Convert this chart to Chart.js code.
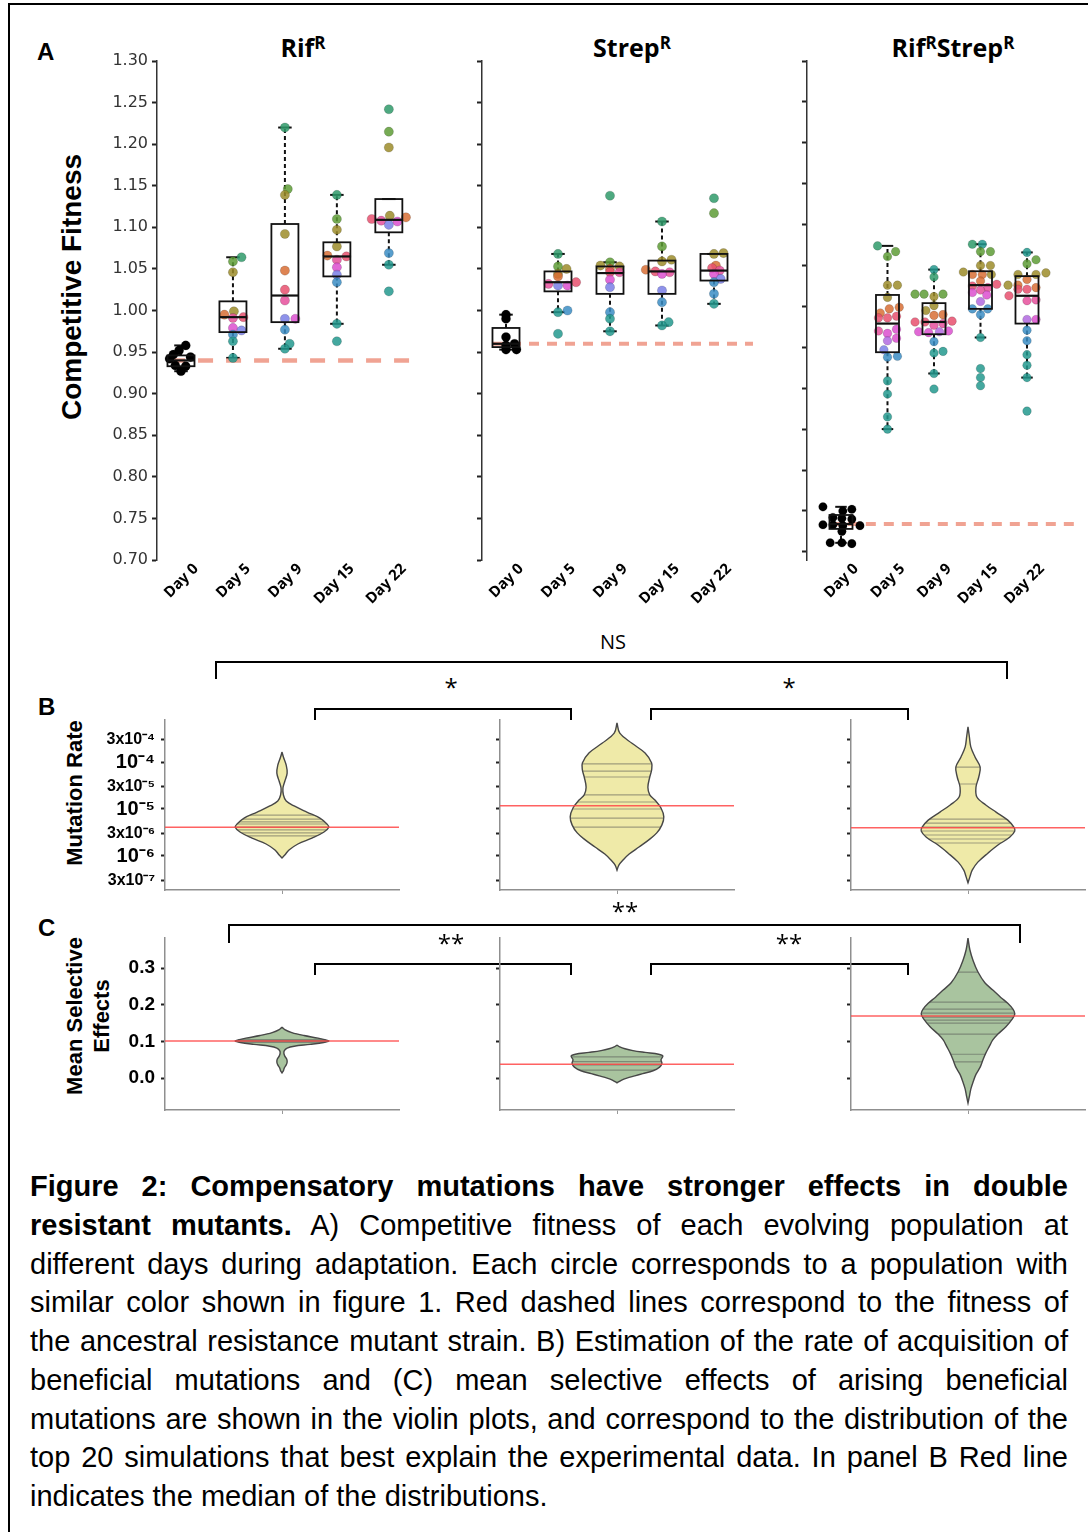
<!DOCTYPE html>
<html lang="en">
<head>
<meta charset="utf-8">
<title>Figure 2</title>
<script src="https://cdn.jsdelivr.net/npm/chart.js@4.4.0/dist/chart.umd.min.js"></script>
<style>
  body { margin: 0; background: #fff; overflow: hidden; }
  #fig { position: relative; width: 1088px; height: 1532px; overflow: hidden; background: #fff;
         font-family: "Liberation Sans", Arial, sans-serif; color: #000; }
  #fig canvas { position: absolute; }
  .frame { position: absolute; left: 8px; top: 3px; width: 1200px; height: 1700px;
           border-left: 2px solid #000; border-top: 2px solid #000; }
  .letter { position: absolute; font-weight: bold; font-size: 24px; line-height: 24px; }
  .ptitle { position: absolute; transform: translateX(-50%); white-space: nowrap;
            font-family: "Open Sans", sans-serif; font-weight: 700; font-size: 25px; line-height: 25px; }
  .ptitle sup { font-size: 17px; vertical-align: 8px; line-height: 0; }
  .ytitle { position: absolute; transform: translate(-50%, -50%) rotate(-90deg); white-space: nowrap;
            font-weight: bold; text-align: center; }
  .brk { position: absolute; box-sizing: border-box; border: 2px solid #000; border-bottom: none; }
  .sig { position: absolute; transform: translateX(-50%); white-space: nowrap;
         font-family: "Open Sans", sans-serif; }
  #cap { position: absolute; left: 30px; top: 1167px; width: 1038px; font-size: 29px; line-height: 38.75px; }
  #cap div { text-align: justify; text-align-last: justify; }
  #cap div.last { text-align-last: left; }
</style>
</head>
<body>
<div id="fig">
  <div class="frame"></div>

  <!-- panel A -->
  <div class="letter" style="left:37px; top:40px;">A</div>
  <div class="ytitle" style="left:72px; top:287px; font-size:28px; line-height:28px;">Competitive Fitness</div>
  <div class="ptitle" style="left:303px; top:35px;">Rif<sup>R</sup></div>
  <div class="ptitle" style="left:632px; top:35px;">Strep<sup>R</sup></div>
  <div class="ptitle" style="left:953px; top:35px;">Rif<sup>R</sup>Strep<sup>R</sup></div>
  <canvas id="fitRif" width="380" height="570" style="left:50px; top:40px;"></canvas>
  <canvas id="fitStrep" width="330" height="570" style="left:440px; top:40px;"></canvas>
  <canvas id="fitDouble" width="318" height="570" style="left:770px; top:40px;"></canvas>

  <!-- panel B -->
  <div class="sig" style="left:613px; top:632px; font-size:20px; line-height:20px;">NS</div>
  <div class="brk" style="left:215px; top:661px; width:793px; height:18px;"></div>
  <div class="sig" style="left:451px; top:676px; font-size:24px; line-height:22px;">*</div>
  <div class="sig" style="left:789px; top:676px; font-size:24px; line-height:22px;">*</div>
  <div class="brk" style="left:314px; top:708px; width:258px; height:12px;"></div>
  <div class="brk" style="left:650px; top:708px; width:259px; height:12px;"></div>
  <div class="letter" style="left:38px; top:695px;">B</div>
  <div class="ytitle" style="left:75px; top:793px; font-size:22px; line-height:22px;">Mutation Rate</div>
  <canvas id="rateRif" width="375" height="195" style="left:30px; top:700px;"></canvas>
  <canvas id="rateStrep" width="310" height="195" style="left:430px; top:700px;"></canvas>
  <canvas id="rateDouble" width="298" height="195" style="left:790px; top:700px;"></canvas>

  <!-- panel C -->
  <div class="sig" style="left:625px; top:900px; font-size:24px; line-height:22px;">**</div>
  <div class="brk" style="left:228px; top:924px; width:793px; height:19px;"></div>
  <div class="sig" style="left:451px; top:932px; font-size:24px; line-height:22px;">**</div>
  <div class="sig" style="left:789px; top:932px; font-size:24px; line-height:22px;">**</div>
  <div class="brk" style="left:314px; top:963px; width:258px; height:12px;"></div>
  <div class="brk" style="left:650px; top:963px; width:259px; height:12px;"></div>
  <div class="letter" style="left:38px; top:916px;">C</div>
  <div class="ytitle" style="left:88px; top:1016px; font-size:22px; line-height:27px;">Mean Selective<br>Effects</div>
  <canvas id="selRif" width="375" height="197" style="left:30px; top:918px;"></canvas>
  <canvas id="selStrep" width="310" height="197" style="left:430px; top:918px;"></canvas>
  <canvas id="selDouble" width="298" height="197" style="left:790px; top:918px;"></canvas>

  <div id="cap">
    <div><b>Figure 2: Compensatory mutations have stronger effects in double</b></div>
    <div><b>resistant mutants.</b> A) Competitive fitness of each evolving population at</div>
    <div>different days during adaptation. Each circle corresponds to a population with</div>
    <div>similar color shown in figure 1. Red dashed lines correspond to the fitness of</div>
    <div>the ancestral resistance mutant strain. B) Estimation of the rate of acquisition of</div>
    <div>beneficial mutations and (C) mean selective effects of arising beneficial</div>
    <div>mutations are shown in the violin plots, and correspond to the distribution of the</div>
    <div>top 20 simulations that best explain the experimental data. In panel B Red line</div>
    <div class="last">indicates the median of the distributions.</div>
  </div>
</div>

<script>
  // ---- panel A data ----
  const days = ['Day 0', 'Day 5', 'Day 9', 'Day 15', 'Day 22'];
  const fitnessTicks = [0.70, 0.75, 0.80, 0.85, 0.90, 0.95, 1.00, 1.05, 1.10, 1.15, 1.20, 1.25, 1.30];
  // population colours (index -1 = ancestor, black)
  const popColors = ['#e8506e', '#d86f35', '#9c8c2a', '#5e9c36', '#2f9a6a', '#23998e',
                     '#3b8dc4', '#7a7fe6', '#b168e0', '#dc4fcf', '#e6509c'];

  // Rif R
  const rifValues = [
    [0.958, 0.952, 0.947, 0.944, 0.942, 0.934, 0.933, 0.927],
    [1.064, 1.059, 1.046, 0.999, 0.995, 0.992, 0.991, 0.979, 0.976, 0.971, 0.963, 0.943],
    [1.220, 1.146, 1.139, 1.092, 1.048, 1.025, 1.012, 0.990, 0.990, 0.977, 0.960, 0.954],
    [1.139, 1.110, 1.097, 1.077, 1.066, 1.065, 1.061, 1.052, 1.043, 1.034, 0.984, 0.963],
    [1.242, 1.215, 1.196, 1.114, 1.112, 1.110, 1.108, 1.107, 1.103, 1.069, 1.055, 1.023]
  ];
  const rifSteps = [
    [0.5, -0.2, -0.8, 1, -1.2, -0.6, 0.5, 0],
    [0.9, 0, 0, 0.1, -0.9, 1.1, 0, 0, 0.9, 0, 0, 0],
    [0, 0.3, 0, 0, 0, 0, 0, 0, 1.1, 0, 0.5, 0],
    [0, 0, 0, 0, -1, 1, 0, 0, 0, 0, 0, 0],
    [0, 0, 0, 0.1, 1.8, -1.8, -0.8, 0.9, 0, 0, 0, 0]
  ];
  const rifColors = [
    [-1, -1, -1, -1, -1, -1, -1, -1],
    [4, 3, 2, 2, 1, 0, 10, 9, 7, 6, 5, 5],
    [4, 3, 2, 2, 1, 0, 10, 7, 9, 6, 5, 5],
    [4, 3, 2, 2, 1, 0, 10, 9, 7, 6, 5, 5],
    [4, 3, 2, 2, 1, 0, 10, 9, 7, 6, 5, 5]
  ];
  const rifBox = {
    q1:  [0.933, 0.974, 0.986, 1.041, 1.094],
    med: [0.940, 0.992, 1.018, 1.065, 1.109],
    q3:  [0.946, 1.011, 1.104, 1.082, 1.134],
    lo:  [0.927, 0.943, 0.954, 0.984, 1.055],
    hi:  [0.958, 1.064, 1.220, 1.139, 1.134]
  };

  // Strep R
  const strepValues = [
    [0.995, 0.990, 0.968, 0.960, 0.958, 0.953, 0.953],
    [1.068, 1.053, 1.050, 1.044, 1.041, 1.034, 1.032, 1.030, 1.030, 1.000, 0.998, 0.972],
    [1.138, 1.058, 1.054, 1.053, 1.050, 1.046, 1.046, 1.037, 1.028, 0.998, 0.990, 0.975],
    [1.107, 1.077, 1.061, 1.059, 1.049, 1.047, 1.046, 1.044, 1.024, 1.010, 0.986, 0.982],
    [1.135, 1.117, 1.069, 1.068, 1.054, 1.051, 1.048, 1.044, 1.038, 1.034, 1.020, 1.008]
  ];
  const strepSteps = [
    [0, 0, 0, 0.9, 0, 0, 1.1],
    [0, 0, 0.9, 0, 0, 1.9, -1, 0, 1, 1, 0, 0],
    [0, 0, -1, 1, 0, 0, 1, 0, 0, 0, 0, 0],
    [0, 0, 1, 0, -1.7, -0.7, 0.8, 0, 0, 0, 0.7, 0],
    [0, 0, 1, 0, 0.2, -0.2, 0.6, 0, 0.7, 0, 0, 0]
  ];
  const strepColors = [
    [-1, -1, -1, -1, -1, -1, -1],
    [4, 3, 2, 2, 1, 0, 10, 7, 9, 6, 5, 5],
    [4, 3, 2, 2, 1, 0, 10, 9, 7, 6, 5, 5],
    [4, 3, 2, 2, 1, 0, 10, 9, 7, 6, 5, 5],
    [4, 3, 2, 2, 1, 0, 10, 9, 7, 6, 6, 5]
  ];
  const strepBox = {
    q1:  [0.956, 1.023, 1.020, 1.020, 1.036],
    med: [0.960, 1.034, 1.045, 1.047, 1.048],
    q3:  [0.979, 1.047, 1.053, 1.060, 1.068],
    lo:  [0.953, 0.998, 0.975, 0.982, 1.008],
    hi:  [0.995, 1.068, 1.058, 1.107, 1.068]
  };

  // Rif R Strep R
  const dblValues = [
    [0.755, 0.752, 0.750, 0.742, 0.741, 0.740, 0.733, 0.733, 0.732, 0.732, 0.725, 0.711, 0.711, 0.710],
    [1.074, 1.067, 1.061, 1.026, 1.026, 1.011, 0.999, 0.997, 0.992, 0.988, 0.986, 0.986, 0.972, 0.970,
     0.967, 0.961, 0.958, 0.947, 0.939, 0.938, 0.909, 0.893, 0.865, 0.850],
    [1.045, 1.036, 1.015, 1.015, 1.015, 1.012, 1.001, 0.995, 0.990, 0.989, 0.982, 0.981, 0.981, 0.979,
     0.977, 0.970, 0.969, 0.969, 0.968, 0.957, 0.945, 0.943, 0.918, 0.899],
    [1.076, 1.076, 1.067, 1.067, 1.050, 1.050, 1.042, 1.039, 1.039, 1.039, 1.031, 1.027, 1.025, 1.023,
     1.020, 1.017, 1.014, 1.006, 0.997, 0.997, 0.990, 0.962, 0.924, 0.913, 0.903],
    [1.066, 1.057, 1.052, 1.041, 1.039, 1.039, 1.033, 1.026, 1.026, 1.023, 1.021, 1.021, 1.013, 1.008,
     1.007, 0.984, 0.984, 0.971, 0.958, 0.941, 0.928, 0.913, 0.872]
  ];
  const dblSteps = [
    [-2, 1.2, 0.2, -0.9, 0.1, 1.2, -2, -0.9, 0.2, 2.1, 0.1, -1.2, 0.1, 1.2],
    [-1.1, 0.9, 0, 0, 1.1, 0, 1.3, 0.2, -0.8, 1, -1, 0, 1, -1, 0, 1, 0, -0.4, 1.1, 0, 0, 0, 0, 0],
    [0, 0, -2.1, -1.1, 1, 0, 0, -0.9, 1, 0, 2, -2.1, -1, 1, 0, 1.6, -1.7, 0.6, -0.6, 0, 1, 0, 0, 0],
    [-0.9, 0.2, 0, 1.1, 0, 1.1, -1.9, -0.9, 0.2, 1.2, 0, 1.8, -0.9, 0.8, 0, -0.9, 0.7, 0, -0.9, 0.8, 0, 0, 0, 0, 0],
    [0, 1, 0, 2.1, -1, 1, 0, -2.1, -1, 1, -1, 0, -2, 1, 0, 1, 0, 0, 0, 0, 0, 0, 0]
  ];
  const dblColors = [
    [-1, -1, -1, -1, -1, -1, -1, -1, -1, -1, -1, -1, -1, -1],
    [4, 3, 3, 2, 2, 2, 1, 1, 1, 0, 0, 0, 9, 10, 9, 9, 8, 7, 6, 6, 5, 5, 5, 5],
    [5, 4, 3, 3, 3, 2, 2, 2, 1, 1, 0, 0, 0, 10, 10, 9, 9, 8, 9, 6, 5, 5, 5, 5],
    [4, 5, 3, 3, 2, 2, 2, 1, 1, 2, 1, 0, 0, 10, 10, 9, 9, 8, 6, 6, 6, 5, 5, 5, 5],
    [5, 3, 3, 2, 2, 2, 1, 2, 1, 1, 0, 0, 0, 10, 10, 9, 8, 6, 6, 5, 5, 5, 5]
  ];
  const dblBox = {
    q1:  [0.728, 0.944, 0.966, 0.997, 0.979],
    med: [0.734, 0.979, 0.981, 1.026, 1.013],
    q3:  [0.745, 1.014, 1.004, 1.043, 1.037],
    lo:  [0.711, 0.850, 0.918, 0.962, 0.913],
    hi:  [0.755, 1.074, 1.045, 1.076, 1.066]
  };

  // fitness of the ancestral resistant strains
  const ancestorFitness = [0.940, 0.960, 0.734];

  // ---- panel B data (mutation rate) ----
  const rateTicks = [3e-4, 1e-4, 3e-5, 1e-5, 3e-6, 1e-6, 3e-7];
  const rateTickLabels = ['3x10⁻⁴', '10⁻⁴', '3x10⁻⁵', '10⁻⁵', '3x10⁻⁶', '10⁻⁶', '3x10⁻⁷'];
  const rateRifVals = [1.63e-4, 1.28e-4, 8.6e-5, 5.8e-5, 3.9e-5, 2.8e-5, 1.99e-5, 1.48e-5, 1.16e-5,
                       8.6e-6, 6.4e-6, 4.8e-6, 4.1e-6, 3.2e-6, 2.4e-6, 1.8e-6, 1.34e-6, 1.05e-6, 9.1e-7];
  const rateRifDens = [0, 0.03, 0.09, 0.11, 0.06, 0.02, 0.03, 0.09, 0.26, 0.53, 0.81, 0.96, 1, 0.89,
                       0.64, 0.34, 0.15, 0.06, 0];
  const rateStrepVals = [6.8e-4, 4.1e-4, 2.5e-4, 1.55e-4, 9.5e-5, 6.8e-5, 4.8e-5, 2.9e-5, 2.0e-5, 1.55e-5,
                         1.05e-5, 6.8e-6, 4.6e-6, 3.1e-6, 2.2e-6, 1.55e-6, 1.1e-6, 8.2e-7, 6.4e-7, 5.0e-7];
  const rateStrepDens = [0, 0.06, 0.32, 0.6, 0.74, 0.74, 0.7, 0.66, 0.7, 0.81, 0.94, 1, 0.96, 0.85,
                         0.68, 0.47, 0.26, 0.13, 0.04, 0];
  const rateDblVals = [5.6e-4, 3.4e-4, 2.1e-4, 1.28e-4, 7.8e-5, 4.8e-5, 2.9e-5, 1.8e-5, 1.22e-5, 8.6e-6,
                       5.8e-6, 4.1e-6, 3.4e-6, 2.5e-6, 1.71e-6, 1.16e-6, 7.4e-7, 5.0e-7, 3.6e-7, 2.7e-7];
  const rateDblDens = [0, 0.03, 0.06, 0.15, 0.26, 0.23, 0.17, 0.19, 0.38, 0.6, 0.85, 0.98, 1, 0.89,
                       0.64, 0.43, 0.21, 0.09, 0.04, 0];
  const rateMedians = [4.1e-6, 1.17e-5, 4.0e-6];
  const rateRifSamples = [7.4e-6, 6.1e-6, 5.3e-6, 4.8e-6, 4.1e-6, 3.6e-6, 3.1e-6, 2.67e-6];
  const rateStrepSamples = [9.1e-5, 6.4e-5, 4.8e-5, 2.0e-5, 1.41e-5, 1.0e-5, 6.4e-6, 4.1e-6];
  const rateDblSamples = [7.8e-5, 3.4e-5, 6.1e-6, 5.0e-6, 4.1e-6, 3.4e-6, 2.8e-6, 2.3e-6, 1.89e-6];

  // ---- panel C data (mean selective effects) ----
  const selTicks = [0, 0.1, 0.2, 0.3];
  const selRifVals = [0.139, 0.132, 0.124, 0.116, 0.109, 0.104, 0.101, 0.097, 0.092, 0.087, 0.082,
                      0.075, 0.068, 0.060, 0.052, 0.044, 0.036, 0.028, 0.020, 0.014];
  const selRifDens = [0, 0.06, 0.21, 0.47, 0.77, 0.94, 1, 0.89, 0.6, 0.26, 0.11, 0.05, 0.04, 0.06,
                      0.1, 0.11, 0.09, 0.05, 0.03, 0];
  const selStrepVals = [0.090, 0.085, 0.080, 0.075, 0.070, 0.065, 0.060, 0.050, 0.040, 0.030, 0.020,
                        0.012, 0.006, 0.000, -0.006, -0.013];
  const selStrepDens = [0, 0.06, 0.17, 0.34, 0.6, 0.89, 0.98, 0.94, 0.96, 0.91, 0.77, 0.55, 0.38,
                        0.21, 0.09, 0];
  const selDblVals = [0.382, 0.350, 0.320, 0.290, 0.260, 0.240, 0.220, 0.204, 0.188, 0.175, 0.160,
                      0.140, 0.120, 0.104, 0.085, 0.068, 0.050, 0.030, 0.010, -0.010, -0.030, -0.050, -0.068];
  const selDblDens = [0, 0.04, 0.11, 0.21, 0.36, 0.53, 0.7, 0.85, 0.96, 1, 0.94, 0.81, 0.64, 0.53,
                      0.45, 0.38, 0.32, 0.26, 0.17, 0.11, 0.06, 0.03, 0];
  const selMedians = [0.101, 0.038, 0.169];
  const selRifSamples = [0.105, 0.102, 0.100, 0.097];
  const selStrepSamples = [0.058, 0.045, 0.036, 0.022];
  const selDblSamples = [0.289, 0.207, 0.188, 0.177, 0.166, 0.158, 0.150, 0.120, 0.065, 0.044];

  // ---- helpers ----
  function rgba(hex, a) {
    const n = parseInt(hex.slice(1), 16);
    return 'rgba(' + (n >> 16) + ',' + ((n >> 8) & 255) + ',' + (n & 255) + ',' + a + ')';
  }
  function pointsFor(values, steps, step) {
    const pts = [];
    values.forEach((dayVals, d) => {
      dayVals.forEach((v, k) => pts.push({ x: d + steps[d][k] * step, y: v }));
    });
    return pts;
  }
  function colorsFor(colors, a) {
    return colors.flat().map(c => c < 0 ? '#000' : rgba(popColors[c], a));
  }
  function zeroPadding(s) {
    s.paddingTop = 0; s.paddingBottom = 0; s.paddingLeft = 0; s.paddingRight = 0;
  }

  // box plots drawn through the chart scales
  function boxPlugin(stats, width) {
    const seg = (ctx, x1, y1, x2, y2) => { ctx.beginPath(); ctx.moveTo(x1, y1); ctx.lineTo(x2, y2); ctx.stroke(); };
    return {
      id: 'boxes',
      beforeDatasetsDraw(chart) {
        const { ctx } = chart, x = chart.scales.x, y = chart.scales.y;
        ctx.save();
        ctx.strokeStyle = '#111';
        stats.q1.forEach((q1, i) => {
          const cx = x.getPixelForValue(i);
          const hw = x.getPixelForValue(i + width / 2) - cx;
          ctx.lineWidth = 2;
          ctx.setLineDash([4, 3]);
          seg(ctx, cx, y.getPixelForValue(stats.q3[i]), cx, y.getPixelForValue(stats.hi[i]));
          seg(ctx, cx, y.getPixelForValue(q1), cx, y.getPixelForValue(stats.lo[i]));
          ctx.setLineDash([]);
          seg(ctx, cx - hw / 2, y.getPixelForValue(stats.hi[i]), cx + hw / 2, y.getPixelForValue(stats.hi[i]));
          seg(ctx, cx - hw / 2, y.getPixelForValue(stats.lo[i]), cx + hw / 2, y.getPixelForValue(stats.lo[i]));
        });
        ctx.restore();
      },
      afterDatasetsDraw(chart) {
        const { ctx } = chart, x = chart.scales.x, y = chart.scales.y;
        ctx.save();
        ctx.strokeStyle = '#111';
        stats.q1.forEach((q1, i) => {
          const cx = x.getPixelForValue(i);
          const hw = x.getPixelForValue(i + width / 2) - cx;
          const top = y.getPixelForValue(stats.q3[i]);
          ctx.lineWidth = 1.8;
          ctx.strokeRect(cx - hw, top, 2 * hw, y.getPixelForValue(q1) - top);
          ctx.lineWidth = 2.2;
          seg(ctx, cx - hw, y.getPixelForValue(stats.med[i]), cx + hw, y.getPixelForValue(stats.med[i]));
        });
        ctx.restore();
      }
    };
  }

  function fitnessChart(id, o) {
    new Chart(document.getElementById(id), {
      type: 'scatter',
      data: {
        datasets: [
          {
            data: pointsFor(o.values, o.steps, o.step),
            pointRadius: o.radius,
            pointBackgroundColor: colorsFor(o.colors, 0.85),
            pointBorderColor: 'rgba(0,0,0,0.25)',
            pointBorderWidth: 0.6,
            order: 1
          },
          {
            data: [{ x: o.dash[0], y: o.ancestor }, { x: o.dash[1], y: o.ancestor }],
            showLine: true,
            borderColor: 'rgba(236,140,120,0.8)',
            borderWidth: o.dashWidth,
            borderDash: o.dashPattern,
            pointRadius: 0,
            order: 2
          }
        ]
      },
      options: {
        responsive: false,
        animation: false,
        events: [],
        layout: { padding: { top: 21, right: o.padRight, left: 0, bottom: 0 } },
        plugins: { legend: { display: false }, tooltip: { enabled: false } },
        scales: {
          x: {
            type: 'linear',
            min: o.xMin,
            max: o.xMax,
            afterBuildTicks: s => { s.ticks = days.map((d, i) => ({ value: i })); },
            ticks: {
              autoSkip: false,
              minRotation: 45,
              maxRotation: 45,
              padding: 0,
              labelOffset: 15,
              color: '#000',
              font: { family: 'Noto Sans', weight: 'bold', size: 15 },
              callback: (v, i) => days[i]
            },
            grid: { display: false, drawTicks: false },
            border: { display: false },
            afterFit: s => { s.height = 50; zeroPadding(s); }
          },
          y: {
            min: o.yMin,
            max: 1.30,
            afterBuildTicks: s => { s.ticks = fitnessTicks.map(v => ({ value: v })); },
            ticks: {
              display: o.labels,
              padding: 4,
              color: '#333',
              font: { family: 'DejaVu Sans', size: 16 },
              callback: v => v.toFixed(2)
            },
            grid: { drawOnChartArea: false, drawTicks: true, tickLength: 5, tickWidth: 2, tickColor: '#222' },
            border: { color: '#333', width: 1.5 },
            afterFit: s => { s.width = o.axisWidth; zeroPadding(s); }
          }
        }
      },
      plugins: [boxPlugin(o.box, o.boxWidth)]
    });
  }

  fitnessChart('fitRif', {
    values: rifValues, steps: rifSteps, colors: rifColors, box: rifBox, ancestor: ancestorFitness[0],
    step: 0.183, radius: 4.6, boxWidth: 0.52, xMin: -0.4615, xMax: 4.692, yMin: 0.70,
    dash: [-0.21, 4.6], dashWidth: 4.5, dashPattern: [15, 13], axisWidth: 107, padRight: 5, labels: true
  });
  fitnessChart('fitStrep', {
    values: strepValues, steps: strepSteps, colors: strepColors, box: strepBox, ancestor: ancestorFitness[1],
    step: 0.183, radius: 4.6, boxWidth: 0.52, xMin: -0.4615, xMax: 4.885, yMin: 0.70,
    dash: [-0.25, 4.75], dashWidth: 4, dashPattern: [10, 8], axisWidth: 42, padRight: 10, labels: false
  });
  fitnessChart('fitDouble', {
    values: dblValues, steps: dblSteps, colors: dblColors, box: dblBox, ancestor: ancestorFitness[2],
    step: 0.194, radius: 4.3, boxWidth: 0.495, xMin: -0.731, xMax: 5.183, yMin: 0.690,
    dash: [-0.24, 5.1], dashWidth: 4, dashPattern: [10, 8], axisWidth: 37, padRight: 6, labels: false
  });

  // ---- violins ----
  const violinHalf = 0.40;
  function outline(vals, dens) {
    const right = vals.map((v, i) => ({ x: dens[i] * violinHalf, y: v }));
    const left = vals.map((v, i) => ({ x: -dens[i] * violinHalf, y: v })).reverse();
    return right.concat(left);
  }
  function sampleLines(samples) {
    return {
      id: 'samples',
      afterDatasetDraw(chart, args) {
        if (args.index !== 0) return;
        const ctx = chart.ctx, y = chart.scales.y, area = chart.chartArea;
        const shape = new Path2D();
        args.meta.dataset.path(shape);
        ctx.save();
        ctx.clip(shape);
        ctx.strokeStyle = 'rgba(80,80,80,0.5)';
        ctx.lineWidth = 1.2;
        samples.forEach(v => {
          const py = y.getPixelForValue(v);
          ctx.beginPath(); ctx.moveTo(area.left, py); ctx.lineTo(area.right, py); ctx.stroke();
        });
        ctx.restore();
      }
    };
  }

  function violinChart(id, o) {
    new Chart(document.getElementById(id), {
      type: 'scatter',
      data: {
        datasets: [
          {
            data: outline(o.vals, o.dens),
            showLine: true,
            fill: 'shape',
            backgroundColor: o.fill,
            borderColor: '#474747',
            borderWidth: 1.4,
            pointRadius: 0,
            tension: 0.35,
            order: 1
          },
          {
            data: [{ x: -1, y: o.median }, { x: 1, y: o.median }],
            showLine: true,
            borderColor: 'rgba(255,70,70,0.85)',
            borderWidth: 1.5,
            pointRadius: 0,
            order: 0
          }
        ]
      },
      options: {
        responsive: false,
        animation: false,
        events: [],
        layout: { padding: { top: 20, right: o.padRight, left: 0, bottom: 0 } },
        plugins: { legend: { display: false }, tooltip: { enabled: false } },
        scales: {
          x: {
            type: 'linear',
            min: -1,
            max: 1,
            afterBuildTicks: s => { s.ticks = [{ value: 0 }]; },
            ticks: { callback: () => '' },
            grid: { drawOnChartArea: false, drawTicks: true, tickLength: 4, color: '#999' },
            border: { color: '#8f8f8f', width: 1.5 },
            afterFit: s => { s.height = 5; zeroPadding(s); }
          },
          y: Object.assign({
            grid: { drawOnChartArea: false, drawTicks: true, tickLength: 4, tickWidth: 2, tickColor: '#222' },
            border: { color: '#8f8f8f', width: 1.5 },
            afterFit: s => { s.width = o.axisWidth; zeroPadding(s); }
          }, o.yScale)
        }
      },
      plugins: [sampleLines(o.samples)]
    });
  }

  function rateScale(labels) {
    return {
      type: 'logarithmic',
      min: 1.89e-7,
      max: 7.83e-4,
      afterBuildTicks: s => { s.ticks = rateTicks.map(v => ({ value: v })); },
      ticks: {
        display: labels,
        padding: 6,
        color: '#000',
        callback: (v, i) => rateTickLabels[i],
        font: c => ({ family: 'Liberation Sans', weight: 'bold',
                      size: (rateTickLabels[c.index] || '').startsWith('3') ? 16 : 20 })
      }
    };
  }
  function selScale(labels) {
    return {
      type: 'linear',
      min: -0.087,
      max: 0.382,
      afterBuildTicks: s => { s.ticks = selTicks.map(v => ({ value: v })); },
      ticks: {
        display: labels,
        padding: 6,
        color: '#000',
        callback: v => v.toFixed(1),
        font: { family: 'Liberation Sans', weight: 'bold', size: 19 }
      }
    };
  }

  const yellowFill = 'rgba(238,233,163,0.95)';
  const greenFill = 'rgba(164,193,154,0.95)';

  violinChart('rateRif', { vals: rateRifVals, dens: rateRifDens, median: rateMedians[0], samples: rateRifSamples,
    fill: yellowFill, axisWidth: 135, padRight: 6, yScale: rateScale(true) });
  violinChart('rateStrep', { vals: rateStrepVals, dens: rateStrepDens, median: rateMedians[1], samples: rateStrepSamples,
    fill: yellowFill, axisWidth: 70, padRight: 6, yScale: rateScale(false) });
  violinChart('rateDouble', { vals: rateDblVals, dens: rateDblDens, median: rateMedians[2], samples: rateDblSamples,
    fill: yellowFill, axisWidth: 61, padRight: 3, yScale: rateScale(false) });

  violinChart('selRif', { vals: selRifVals, dens: selRifDens, median: selMedians[0], samples: selRifSamples,
    fill: greenFill, axisWidth: 135, padRight: 6, yScale: selScale(true) });
  violinChart('selStrep', { vals: selStrepVals, dens: selStrepDens, median: selMedians[1], samples: selStrepSamples,
    fill: greenFill, axisWidth: 70, padRight: 6, yScale: selScale(false) });
  violinChart('selDouble', { vals: selDblVals, dens: selDblDens, median: selMedians[2], samples: selDblSamples,
    fill: greenFill, axisWidth: 61, padRight: 3, yScale: selScale(false) });
</script>
</body>
</html>
